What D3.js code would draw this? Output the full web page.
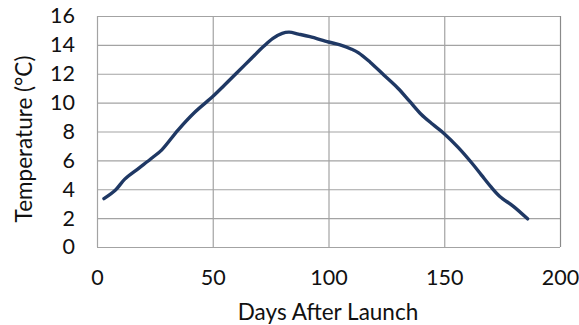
<!DOCTYPE html>
<html>
<head>
<meta charset="utf-8">
<script src="https://cdn.jsdelivr.net/npm/d3@7"></script>
<style>
  html, body { margin: 0; padding: 0; background: #fff; }
  svg { display: block; }
</style>
</head>
<body>
<svg id="chart" width="579" height="325"></svg>
<script>
// ---- data ----
const days  = [3, 8, 12, 18, 24, 28, 35, 42, 50, 55, 60, 66, 72, 76, 80, 83, 87, 92, 100, 105, 110, 113, 118, 124, 130, 135, 140, 145, 150, 156, 162, 166, 170, 174, 180, 186];
const temps = [3.35, 3.95, 4.7, 5.45, 6.2, 6.73, 8.1, 9.3, 10.42, 11.2, 12.0, 12.95, 13.9, 14.45, 14.8, 14.88, 14.75, 14.57, 14.2, 14.0, 13.7, 13.45, 12.8, 11.9, 11.0, 10.1, 9.2, 8.5, 7.85, 6.9, 5.8, 5.0, 4.2, 3.5, 2.8, 1.95];
const xTicks = [0, 50, 100, 150, 200];
const yTicks = [0, 2, 4, 6, 8, 10, 12, 14, 16];
const xTitle = "Days After Launch";
const yTitle = "Temperature (°C)";

const svg = d3.select("#chart");
const pL = 97, pR = 560, pT = 16, pB = 247;
const font = "Lato, 'Open Sans', sans-serif";

const x = d3.scaleLinear().domain([0, 200]).range([pL, pR]);
const y = d3.scaleLinear().domain([0, 16]).range([pB, pT]);

// grid
const g = svg.append("g");
g.selectAll("line.h").data(yTicks).join("line")
  .attr("x1", pL).attr("x2", pR)
  .attr("y1", d => y(d) + 0.5).attr("y2", d => y(d) + 0.5)
  .attr("stroke", "#a3a3a3").attr("stroke-width", 1.2);
g.selectAll("line.v").data(xTicks).join("line")
  .attr("y1", pT).attr("y2", pB)
  .attr("x1", d => x(d) + 0.5).attr("x2", d => x(d) + 0.5)
  .attr("stroke", d => d === 200 ? "#8a8a8a" : "#a3a3a3").attr("stroke-width", 1.2);

// axes (labels only)
const xAxis = svg.append("g").attr("transform", `translate(0,${pB})`)
  .call(d3.axisBottom(x).tickValues(xTicks).tickSize(0).tickPadding(23));
const yAxis = svg.append("g").attr("transform", `translate(${pL},0)`)
  .call(d3.axisLeft(y).tickValues(yTicks).tickSize(0).tickPadding(22));
[xAxis, yAxis].forEach(a => {
  a.select(".domain").remove();
  a.selectAll("text").attr("font-family", font).attr("font-size", 21.5).attr("fill", "#111");
});

// line
svg.append("path")
  .datum(days.map((d, i) => [d, temps[i]]))
  .attr("fill", "none")
  .attr("stroke", "#1f3864")
  .attr("stroke-width", 3.4)
  .attr("stroke-linejoin", "round")
  .attr("stroke-linecap", "round")
  .attr("d", d3.line().x(d => x(d[0])).y(d => y(d[1])).curve(d3.curveCatmullRom.alpha(0.5)));

// titles
svg.append("text")
  .attr("x", 328).attr("y", 320)
  .attr("text-anchor", "middle")
  .attr("font-family", font).attr("font-size", 22.5).attr("fill", "#111")
  .text(xTitle);
svg.append("text")
  .attr("transform", "translate(32,139) rotate(-90)")
  .attr("text-anchor", "middle")
  .attr("font-family", font).attr("font-size", 22.5).attr("fill", "#111")
  .text(yTitle);
</script>
</body>
</html>
